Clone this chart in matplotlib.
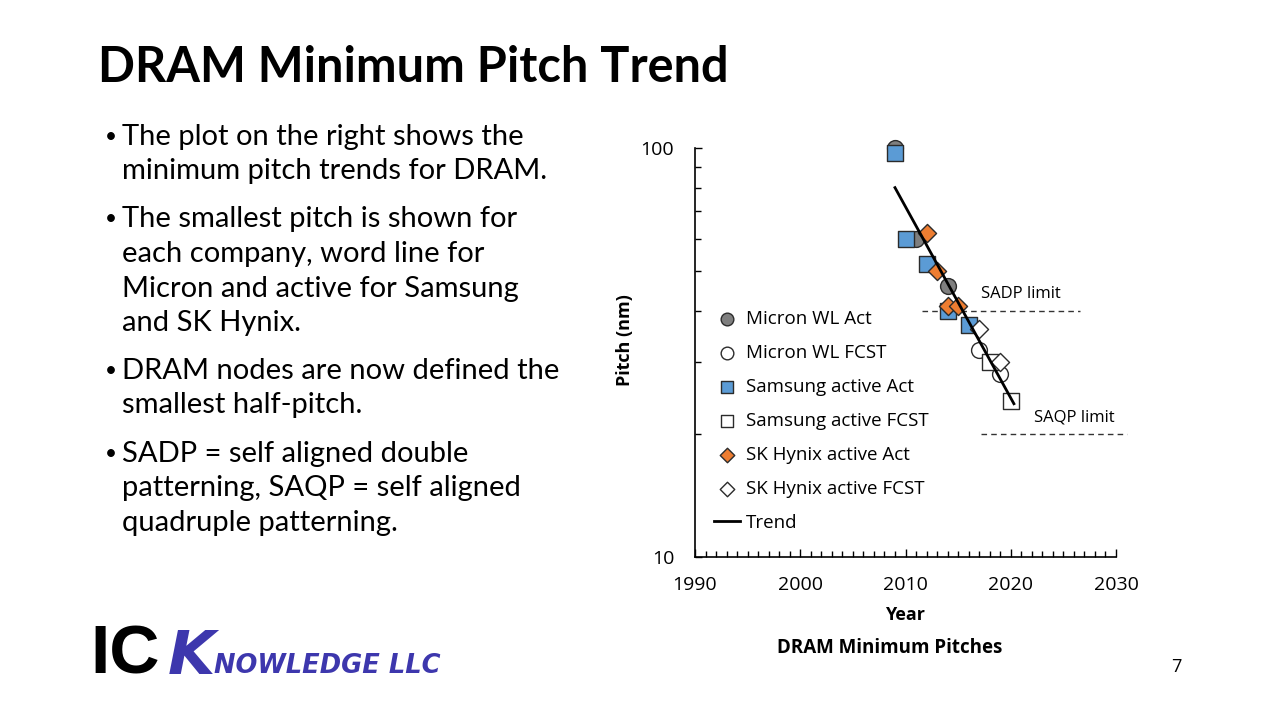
import matplotlib.pyplot as plt
from matplotlib.ticker import LogLocator, NullFormatter, FixedLocator, FixedFormatter

# dados
micron_act_ano = [2009, 2011, 2014]
micron_act_pitch = [100, 60, 46]
micron_fcst_ano = [2017, 2019]
micron_fcst_pitch = [32, 28]
samsung_act_ano = [2009, 2010, 2012, 2014, 2016]
samsung_act_pitch = [97, 60, 52, 40, 37]
samsung_fcst_ano = [2018, 2020]
samsung_fcst_pitch = [30, 24]
hynix_act_ano = [2012, 2013, 2014, 2015]
hynix_act_pitch = [62, 50, 41, 41]
hynix_fcst_ano = [2017, 2019]
hynix_fcst_pitch = [36, 30]
trend_ano = [2009, 2020.3]
trend_pitch = [80, 23.7]
sadp_ano = [2011.6, 2026.6]
sadp_pitch = 40
saqp_ano = [2017.2, 2031.0]
saqp_pitch = 20

bullets = [
    ["The plot on the right shows the", "minimum pitch trends for DRAM."],
    ["The smallest pitch is shown for", "each company, word line for",
     "Micron and active for Samsung", "and SK Hynix."],
    ["DRAM nodes are now defined the", "smallest half-pitch."],
    ["SADP = self aligned double", "patterning, SAQP = self aligned",
     "quadruple patterning."],
]

plt.rcParams['font.family'] = ['Lato', 'DejaVu Sans']

W, H = 1278, 719
fig = plt.figure(figsize=(W / 100, H / 100), dpi=100)

def fx(px):
    return px / W

def fy(py):
    return 1 - py / H

# titulo
fig.text(fx(98), fy(68), "DRAM Minimum Pitch Trend", fontsize=35, fontweight='bold',
         va='center', ha='left')

# bullets
y = 137
for bloco in bullets:
    fig.text(fx(105), fy(y), "•", fontsize=15, va='center', ha='left')
    for linha in bloco:
        fig.text(fx(122), fy(y), linha, fontsize=21, va='center', ha='left')
        y += 34.5
    y += 13.5

# grafico
ax = fig.add_axes([fx(695), fy(557), fx(1116) - fx(695), fy(148) - fy(557)])
ax.set_yscale('log')
ax.set_xlim(1990, 2030)
ax.set_ylim(10, 100)

ec = '#2b2b2b'
ax.scatter(micron_act_ano, micron_act_pitch, s=130, marker='o', facecolor='#7f7f7f',
           edgecolor=ec, linewidth=1, label='Micron WL Act', zorder=3, clip_on=False)
ax.scatter(micron_fcst_ano, micron_fcst_pitch, s=130, marker='o', facecolor='white',
           edgecolor=ec, linewidth=1, label='Micron WL FCST', zorder=3)
ax.scatter(samsung_act_ano, samsung_act_pitch, s=125, marker='s', facecolor='#5b9bd5',
           edgecolor=ec, linewidth=1, label='Samsung active Act', zorder=3, clip_on=False)
ax.scatter(samsung_fcst_ano, samsung_fcst_pitch, s=125, marker='s', facecolor='white',
           edgecolor=ec, linewidth=1, label='Samsung active FCST', zorder=3)
ax.scatter(hynix_act_ano, hynix_act_pitch, s=85, marker='D', facecolor='#ed7d31',
           edgecolor=ec, linewidth=1, label='SK Hynix active Act', zorder=3)
ax.scatter(hynix_fcst_ano, hynix_fcst_pitch, s=85, marker='D', facecolor='white',
           edgecolor=ec, linewidth=1, label='SK Hynix active FCST', zorder=3)
ax.plot(trend_ano, trend_pitch, color='black', linewidth=2, label='Trend', zorder=4)

ax.plot(sadp_ano, [sadp_pitch, sadp_pitch], color='#333333', linewidth=1,
        linestyle=(0, (4, 3)), clip_on=False)
ax.plot(saqp_ano, [saqp_pitch, saqp_pitch], color='#333333', linewidth=1,
        linestyle=(0, (4, 3)), clip_on=False)
ax.text(2021.0, 42.0, "SADP limit", fontsize=12, ha='center', va='bottom', family='Open Sans')
ax.text(2026.0, 21.0, "SAQP limit", fontsize=12, ha='center', va='bottom', family='Open Sans')

for s in ['top', 'right']:
    ax.spines[s].set_visible(False)
for s in ['left', 'bottom']:
    ax.spines[s].set_linewidth(1.2)

ax.set_xticks([1990, 2000, 2010, 2020, 2030])
ax.set_xticks(range(1990, 2031), minor=True)
ax.tick_params(axis='x', which='major', direction='in', length=6, width=1, pad=14, labelsize=14)
ax.tick_params(axis='x', which='minor', direction='in', length=4, width=1)
ax.yaxis.set_major_locator(FixedLocator([10, 100]))
ax.yaxis.set_major_formatter(FixedFormatter(['10', '100']))
ax.yaxis.set_minor_locator(LogLocator(base=10, subs=range(2, 10)))
ax.yaxis.set_minor_formatter(NullFormatter())
ax.tick_params(axis='y', which='major', direction='in', length=5, width=1, pad=15, labelsize=14)
ax.tick_params(axis='y', which='minor', direction='in', length=4, width=1)
for lab in ax.get_xticklabels() + ax.get_yticklabels():
    lab.set_family('Open Sans')

ax.set_xlabel("Year", fontsize=13, fontweight='bold', family='Open Sans', labelpad=8)
ax.set_ylabel("Pitch (nm)", fontsize=13, fontweight='bold', family='Open Sans')
ax.yaxis.set_label_coords(-0.145, 0.53)

ax.legend(loc='center left', bbox_to_anchor=(0.045, 0.333), frameon=False,
          handlelength=1.4, handletextpad=0.3, labelspacing=0.85, markerscale=0.8,
          borderpad=0, borderaxespad=0, prop={'family': 'Open Sans', 'size': 13.5})

fig.text(fx(890), fy(648), "DRAM Minimum Pitches", fontsize=13.5, fontweight='bold',
         ha='center', va='center', family='Open Sans')
fig.text(fx(1176), fy(667), "7", fontsize=13, ha='center', va='center', family='Open Sans')

# logo
fig.text(fx(90), fy(655), "IC", fontsize=50, fontweight='bold', ha='left', va='center',
         family='Liberation Sans')
fig.text(fx(168), fy(657), "K", fontsize=44, fontweight='bold', style='italic', ha='left',
         va='center', color='#3d37ad', family='DejaVu Sans')
fig.text(fx(214), fy(666), "NOWLEDGE LLC", fontsize=18.5, fontweight='bold', style='italic',
         ha='left', va='center', color='#3d37ad', family='DejaVu Sans')

fig.savefig("out.png", dpi=100)
